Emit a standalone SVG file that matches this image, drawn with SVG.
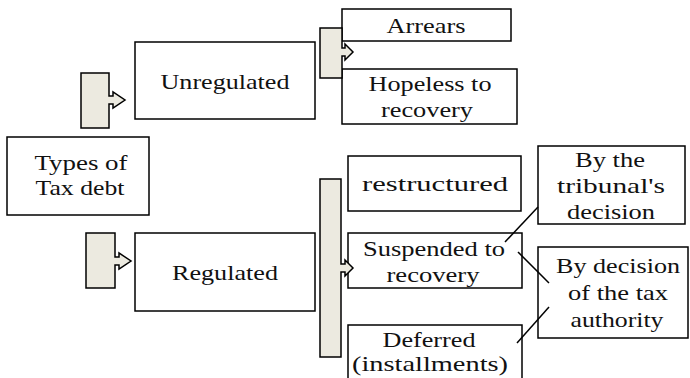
<svg xmlns="http://www.w3.org/2000/svg" width="690" height="378" viewBox="0 0 690 378">
<style>
.box{fill:#fff;stroke:#000;stroke-width:1.5}
.br{fill:#ECEAE0;stroke:#000;stroke-width:1.5;stroke-linejoin:miter}
.t{font-family:"Liberation Serif","Times New Roman",serif;font-size:21px;fill:#111;text-anchor:middle}
.ln{stroke:#000;stroke-width:1.5;fill:none}
</style>
<rect width="690" height="378" fill="#fff"/>
<g id="types"><rect class="box" x="7" y="137" width="142" height="78"/>
<text class="t" x="81" y="170" textLength="93" lengthAdjust="spacingAndGlyphs">Types of</text>
<text class="t" x="80" y="195" textLength="89" lengthAdjust="spacingAndGlyphs">Tax debt</text></g>
<g id="unregulated"><rect class="box" x="135" y="42" width="180" height="77"/>
<text class="t" x="225" y="89" textLength="129" lengthAdjust="spacingAndGlyphs">Unregulated</text></g>
<g id="regulated"><rect class="box" x="135" y="233" width="180" height="78"/>
<text class="t" x="225" y="280" textLength="106" lengthAdjust="spacingAndGlyphs">Regulated</text></g>
<g id="arrears"><rect class="box" x="342" y="9" width="169" height="32"/>
<text class="t" x="426" y="33" textLength="79" lengthAdjust="spacingAndGlyphs">Arrears</text></g>
<g id="hopeless"><rect class="box" x="342" y="69" width="175" height="55"/>
<text class="t" x="430" y="91" textLength="123" lengthAdjust="spacingAndGlyphs">Hopeless to</text>
<text class="t" x="427" y="117" textLength="92" lengthAdjust="spacingAndGlyphs">recovery</text></g>
<g id="restructured"><rect class="box" x="348" y="156" width="173" height="55"/>
<text class="t" x="435" y="191" textLength="146" lengthAdjust="spacingAndGlyphs">restructured</text></g>
<g id="suspended"><rect class="box" x="348" y="233" width="174" height="55"/>
<text class="t" x="434" y="256" textLength="142" lengthAdjust="spacingAndGlyphs">Suspended to</text>
<text class="t" x="433" y="282" textLength="93" lengthAdjust="spacingAndGlyphs">recovery</text></g>
<g id="deferred"><rect class="box" x="348" y="325" width="174" height="70"/>
<text class="t" x="429" y="347" textLength="93" lengthAdjust="spacingAndGlyphs">Deferred</text>
<text class="t" x="430" y="371" textLength="156" lengthAdjust="spacingAndGlyphs">(installments)</text></g>
<g id="tribunal"><rect class="box" x="538" y="146" width="147" height="78"/>
<text class="t" x="610" y="167" textLength="70" lengthAdjust="spacingAndGlyphs">By the</text>
<text class="t" x="611" y="193" textLength="108" lengthAdjust="spacingAndGlyphs">tribunal's</text>
<text class="t" x="611" y="219" textLength="88" lengthAdjust="spacingAndGlyphs">decision</text></g>
<g id="authority"><rect class="box" x="538" y="247" width="150" height="91"/>
<text class="t" x="618" y="273" textLength="124" lengthAdjust="spacingAndGlyphs">By decision</text>
<text class="t" x="618" y="300" textLength="100" lengthAdjust="spacingAndGlyphs">of the tax</text>
<text class="t" x="617" y="327" textLength="93" lengthAdjust="spacingAndGlyphs">authority</text></g>
<g id="connectors">
<path class="br" d="M81,73 H109 V96 H113 V92 L125,100 L113,108 V104 H109 V128 H81 Z"/>
<path class="br" d="M86,233 H115 V257 H119 V253 L131,261 L119,269 V265 H115 V288 H86 Z"/>
<path class="br" d="M320,28 H342 V48 H345 V44 L353,52 L345,60 V56 H342 V78 H320 Z"/>
<path class="br" d="M320,179 H341 V264 H345 V260 L353,268 L345,276 V272 H341 V357 H320 Z"/>
<line class="ln" x1="505" y1="242" x2="538" y2="207"/>
<line class="ln" x1="518" y1="252" x2="549" y2="283"/>
<line class="ln" x1="517" y1="343" x2="549" y2="307"/>
</g>
</svg>
